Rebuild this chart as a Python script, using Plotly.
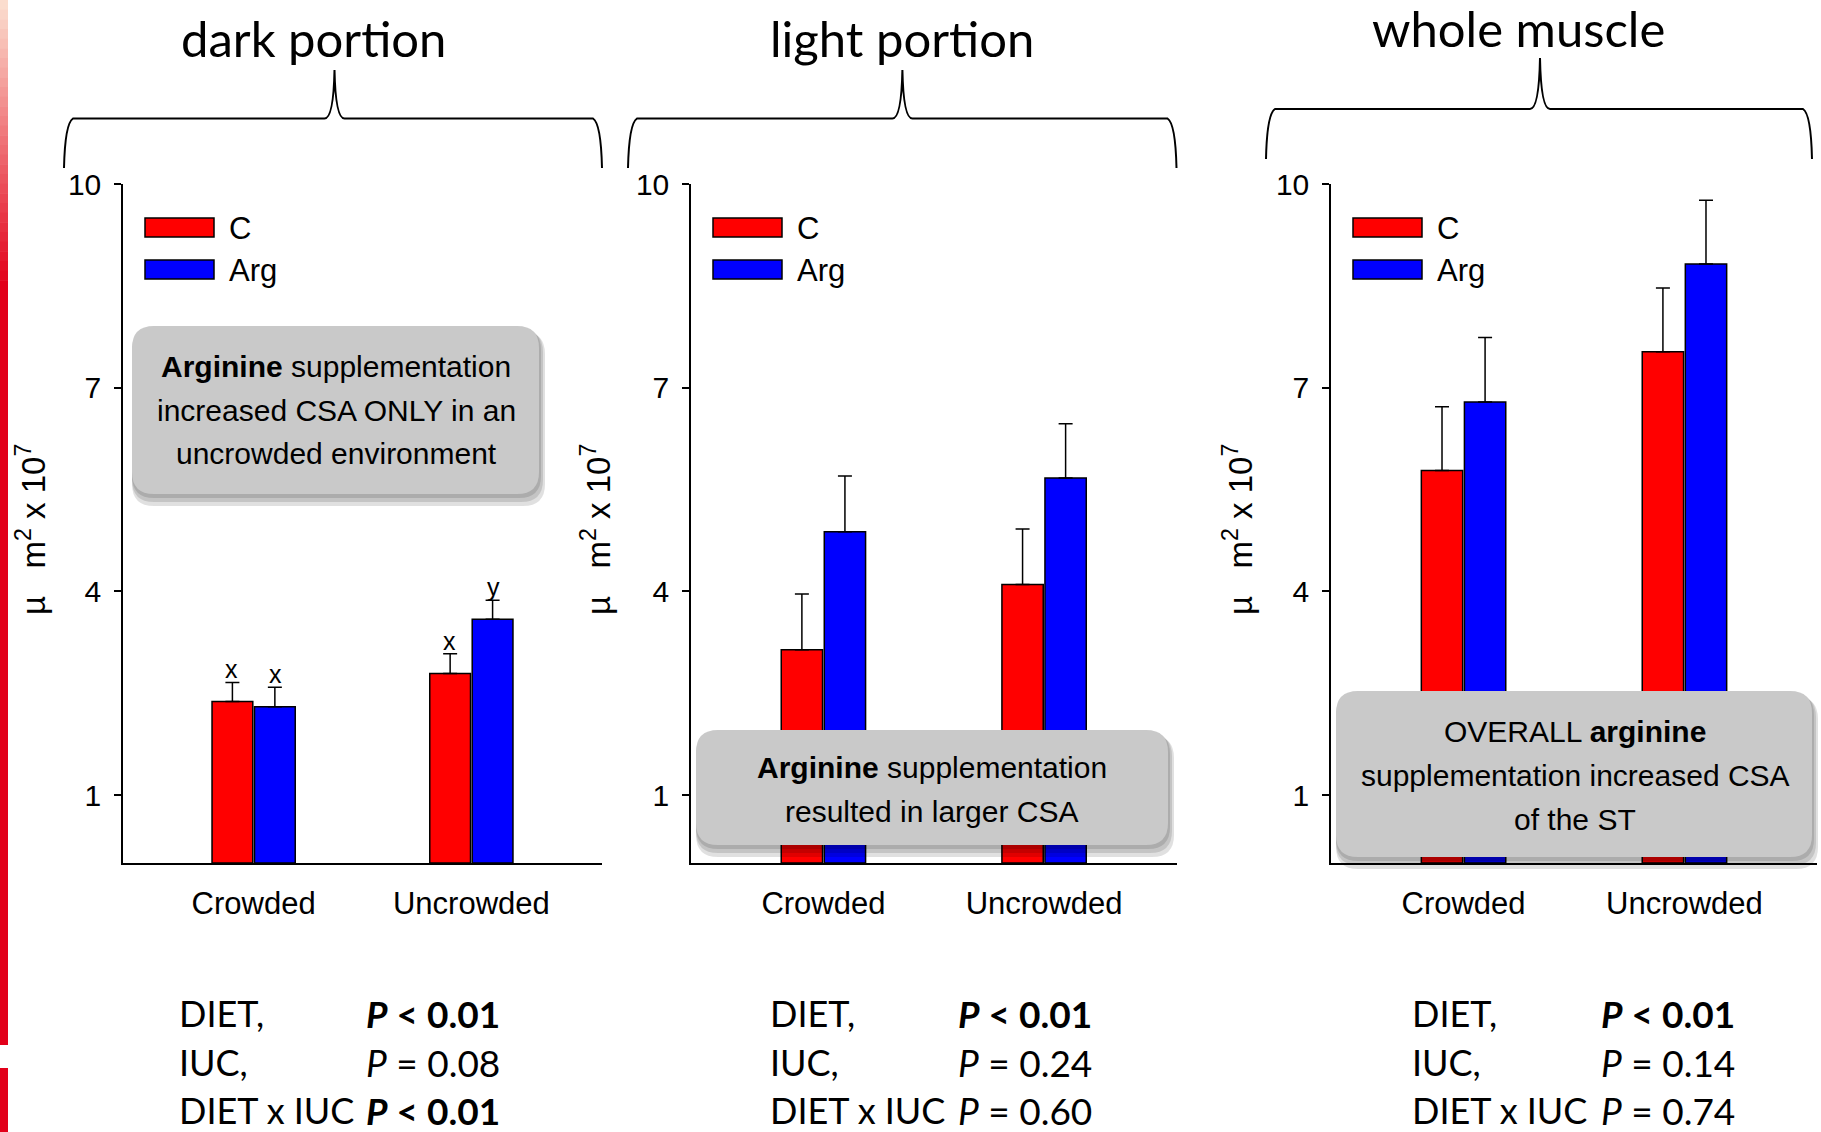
import plotly.graph_objects as go

W, H = 1821, 1132

# ---------------- data ----------------
categories = ["Crowded", "Uncrowded"]
series_names = ["C", "Arg"]
panel_titles = ["dark portion", "light portion", "whole muscle"]
tick_vals = [1, 4, 7, 10]

dark_C = [2.38, 2.79]
dark_Arg = [2.30, 3.59]
dark_C_err = [0.28, 0.29]
dark_Arg_err = [0.29, 0.28]
dark_C_letters = ["x", "x"]
dark_Arg_letters = ["x", "y"]

light_C = [3.14, 4.10]
light_Arg = [4.88, 5.67]
light_C_err = [0.82, 0.82]
light_Arg_err = [0.82, 0.80]

whole_C = [5.78, 7.53]
whole_Arg = [6.79, 8.82]
whole_C_err = [0.94, 0.94]
whole_Arg_err = [0.95, 0.94]

stat_terms = ["DIET,", "IUC,", "DIET x IUC"]
dark_p = [("<", "0.01", True), ("=", "0.08", False), ("<", "0.01", True)]
light_p = [("<", "0.01", True), ("=", "0.24", False), ("=", "0.60", False)]
whole_p = [("<", "0.01", True), ("=", "0.14", False), ("=", "0.74", False)]

box_lines = [
    ["<b>Arginine</b> supplementation", "increased CSA ONLY in an", "uncrowded environment"],
    ["<b>Arginine</b> supplementation", "resulted in larger CSA"],
    ["OVERALL <b>arginine</b>", "supplementation increased CSA", "of the ST"],
]
y_title = "µ   m<sup>2</sup> x 10<sup>7</sup>"

# ---------------- style / layout ----------------
ARIAL = "Liberation Sans, Arial, sans-serif"
CAL = "Lato, Carlito, Calibri, sans-serif"
RED = "#ff0000"
BLUE = "#0000ff"


def px(x):
    return x / W


def py(y):
    return 1 - y / H


panels = [
    dict(C=dark_C, A=dark_Arg, Ce=dark_C_err, Ae=dark_Arg_err, x0=123, x1=602,
         p=dark_p, lab_x=176.5, p_x=363.5, title_xy=(313.6, 38),
         brace=(64, 602, 334.5, 168, 118.5, 70), ytitle_x=31,
         box=(132, 326, 539, 494), box_c=(336, 366)),
    dict(C=light_C, A=light_Arg, Ce=light_C_err, Ae=light_Arg_err, x0=691, x1=1176.5,
         p=light_p, lab_x=767.7, p_x=955.8, title_xy=(902, 38),
         brace=(628, 1176.5, 902.4, 168, 118.5, 70), ytitle_x=596,
         box=(696, 730, 1168, 845), box_c=(932, 767)),
    dict(C=whole_C, A=whole_Arg, Ce=whole_C_err, Ae=whole_Arg_err, x0=1331, x1=1817,
         p=whole_p, lab_x=1410, p_x=1599, title_xy=(1518, 28),
         brace=(1266, 1812, 1540, 159, 109, 58), ytitle_x=1238,
         box=(1336, 691, 1812, 857), box_c=(1575, 731)),
]

fig = go.Figure()
shapes = []
annotations = []
layout_axes = {}

Y_TOP, Y_BOT = 184, 863


def ann(x, y, text, size, family=ARIAL, xanchor="center", yanchor="middle", **kw):
    d = dict(x=px(x), y=py(y), xref="paper", yref="paper", text=text, showarrow=False,
             xanchor=xanchor, yanchor=yanchor, font=dict(family=family, size=size, color="black"))
    d.update(kw)
    return d


def rr(x0, y0, x1, y1, r):
    return (f"M {px(x0 + r)},{py(y0)} L {px(x1 - r)},{py(y0)} "
            f"Q {px(x1)},{py(y0)} {px(x1)},{py(y0 + r)} L {px(x1)},{py(y1 - r)} "
            f"Q {px(x1)},{py(y1)} {px(x1 - r)},{py(y1)} L {px(x0 + r)},{py(y1)} "
            f"Q {px(x0)},{py(y1)} {px(x0)},{py(y1 - r)} L {px(x0)},{py(y0 + r)} "
            f"Q {px(x0)},{py(y0)} {px(x0 + r)},{py(y0)} Z")


for i, p in enumerate(panels):
    sfx = "" if i == 0 else str(i + 1)
    xa, ya = "x" + sfx, "y" + sfx
    for vals, errs, name, col in [(p["C"], p["Ce"], series_names[0], RED),
                                  (p["A"], p["Ae"], series_names[1], BLUE)]:
        fig.add_trace(go.Bar(
            x=[0, 1], y=vals, name=name, showlegend=False,
            marker=dict(color=col, line=dict(color="black", width=1.5)),
            error_y=dict(type="data", array=errs, arrayminus=[0, 0], symmetric=False,
                         color="black", thickness=1.5, width=7),
            xaxis=xa, yaxis=ya,
        ))
    layout_axes["xaxis" + sfx] = dict(
        domain=[px(p["x0"]), px(p["x1"])], range=[-0.6, 1.6], anchor=ya,
        showline=True, linecolor="black", linewidth=2, showgrid=False, zeroline=False,
        tickvals=[0, 1], ticktext=categories, ticks="", automargin=False,
        tickfont=dict(family=ARIAL, size=31, color="black"), ticklabelstandoff=12,
        fixedrange=True,
    )
    layout_axes["yaxis" + sfx] = dict(
        domain=[py(Y_BOT), py(Y_TOP)], range=[0, 10], anchor=xa,
        showline=True, linecolor="black", linewidth=1.5, showgrid=False, zeroline=False,
        ticks="outside", ticklen=7, tickwidth=1.5, tickcolor="black", automargin=False,
        tickvals=tick_vals, ticktext=[str(v) for v in tick_vals],
        tickfont=dict(family=ARIAL, size=30, color="black"), ticklabelstandoff=7,
        fixedrange=True,
    )

    # y title
    annotations.append(ann(p["ytitle_x"], 530, y_title, 33, textangle=-90))

    # legend
    ax = p["x0"]
    for j, (col, name) in enumerate([(RED, series_names[0]), (BLUE, series_names[1])]):
        yt = 218 + j * 42
        shapes.append(dict(type="rect", xref="paper", yref="paper",
                           x0=px(ax + 22), x1=px(ax + 91), y0=py(yt + 19), y1=py(yt),
                           fillcolor=col, line=dict(color="black", width=1.5)))
        annotations.append(ann(ax + 104, yt + 10, name, 31, xanchor="left"))

    # title and brace
    tx, ty = p["title_xy"]
    annotations.append(ann(tx, ty, panel_titles[i], 49, family=CAL))
    xl, xr, xm, yb, yh, yp = p["brace"]
    pts = [
        f"M {px(xl)},{py(yb)}",
        f"Q {px(xl + 1)},{py(yh + 5)} {px(xl + 9)},{py(yh)}",
        f"L {px(xm - 10)},{py(yh)}",
        f"Q {px(xm - 1)},{py(yh)} {px(xm)},{py(yp)}",
        f"Q {px(xm + 1)},{py(yh)} {px(xm + 10)},{py(yh)}",
        f"L {px(xr - 9)},{py(yh)}",
        f"Q {px(xr - 1)},{py(yh + 5)} {px(xr)},{py(yb)}",
    ]
    shapes.append(dict(type="path", xref="paper", yref="paper", path=" ".join(pts),
                       line=dict(color="black", width=2)))

    # gray rounded note box with shadow
    bx0, by0, bx1, by1 = p["box"]
    for dx, dy, grow in [(3, 9, 3), (2, 6, 2), (1, 3, 1)]:
        shapes.append(dict(type="path", xref="paper", yref="paper", layer="above",
                           path=rr(bx0 + dx - grow, by0 + dy - grow, bx1 + dx + grow, by1 + dy + grow, 22),
                           fillcolor="rgba(0,0,0,0.12)", line=dict(width=0)))
    shapes.append(dict(type="path", xref="paper", yref="paper", layer="above",
                       path=rr(bx0, by0, bx1, by1, 22),
                       fillcolor="#c9c9c9", line=dict(width=0)))
    cx, cy = p["box_c"]
    for k, line in enumerate(box_lines[i]):
        annotations.append(ann(cx, cy + 44 * k, line, 30))

    # stats text
    for k, (term, (op, val, sig)) in enumerate(zip(stat_terms, p["p"])):
        yy = [1013, 1062, 1110][k]
        annotations.append(ann(p["lab_x"], yy, term, 36, family=CAL, xanchor="left"))
        op_html = "&lt;" if op == "<" else op
        t = f"<i>P</i> {op_html} {val}"
        if sig:
            t = f"<b>{t}</b>"
        annotations.append(ann(p["p_x"], yy, t, 37, family=CAL, xanchor="left"))

# significance letters (dark portion)
for vals, errs, letters, off in [(dark_C, dark_C_err, dark_C_letters, -0.1),
                                 (dark_Arg, dark_Arg_err, dark_Arg_letters, 0.1)]:
    for k in range(2):
        annotations.append(dict(x=k + off, y=vals[k] + errs[k], xref="x", yref="y",
                                text=letters[k], showarrow=False, xanchor="center",
                                yanchor="bottom", yshift=-3,
                                font=dict(family=ARIAL, size=25, color="black")))

# left decorative stripe
top_c = (251, 221, 206)
bot_c = (226, 0, 26)
nseg = 30
for s in range(nseg):
    t = s / (nseg - 1)
    c = tuple(int(round(top_c[j] + (bot_c[j] - top_c[j]) * t)) for j in range(3))
    y0 = s * 290 / nseg
    y1 = (s + 1) * 290 / nseg + 0.5
    shapes.append(dict(type="rect", xref="paper", yref="paper", x0=0, x1=px(8),
                       y0=py(y1), y1=py(y0), fillcolor=f"rgb{c}", line=dict(width=0)))
shapes.append(dict(type="rect", xref="paper", yref="paper", x0=0, x1=px(8),
                   y0=py(1045), y1=py(290), fillcolor="rgb(226,0,26)", line=dict(width=0)))
shapes.append(dict(type="rect", xref="paper", yref="paper", x0=0, x1=px(8),
                   y0=0, y1=py(1068), fillcolor="rgb(226,0,26)", line=dict(width=0)))

fig.update_layout(
    width=W, height=H, margin=dict(l=0, r=0, t=0, b=0, pad=0, autoexpand=False),
    paper_bgcolor="white", plot_bgcolor="white",
    barmode="group", bargap=0.61, bargroupgap=0.04,
    showlegend=False, shapes=shapes, annotations=annotations,
    **layout_axes,
)

fig.write_html("out.html")
